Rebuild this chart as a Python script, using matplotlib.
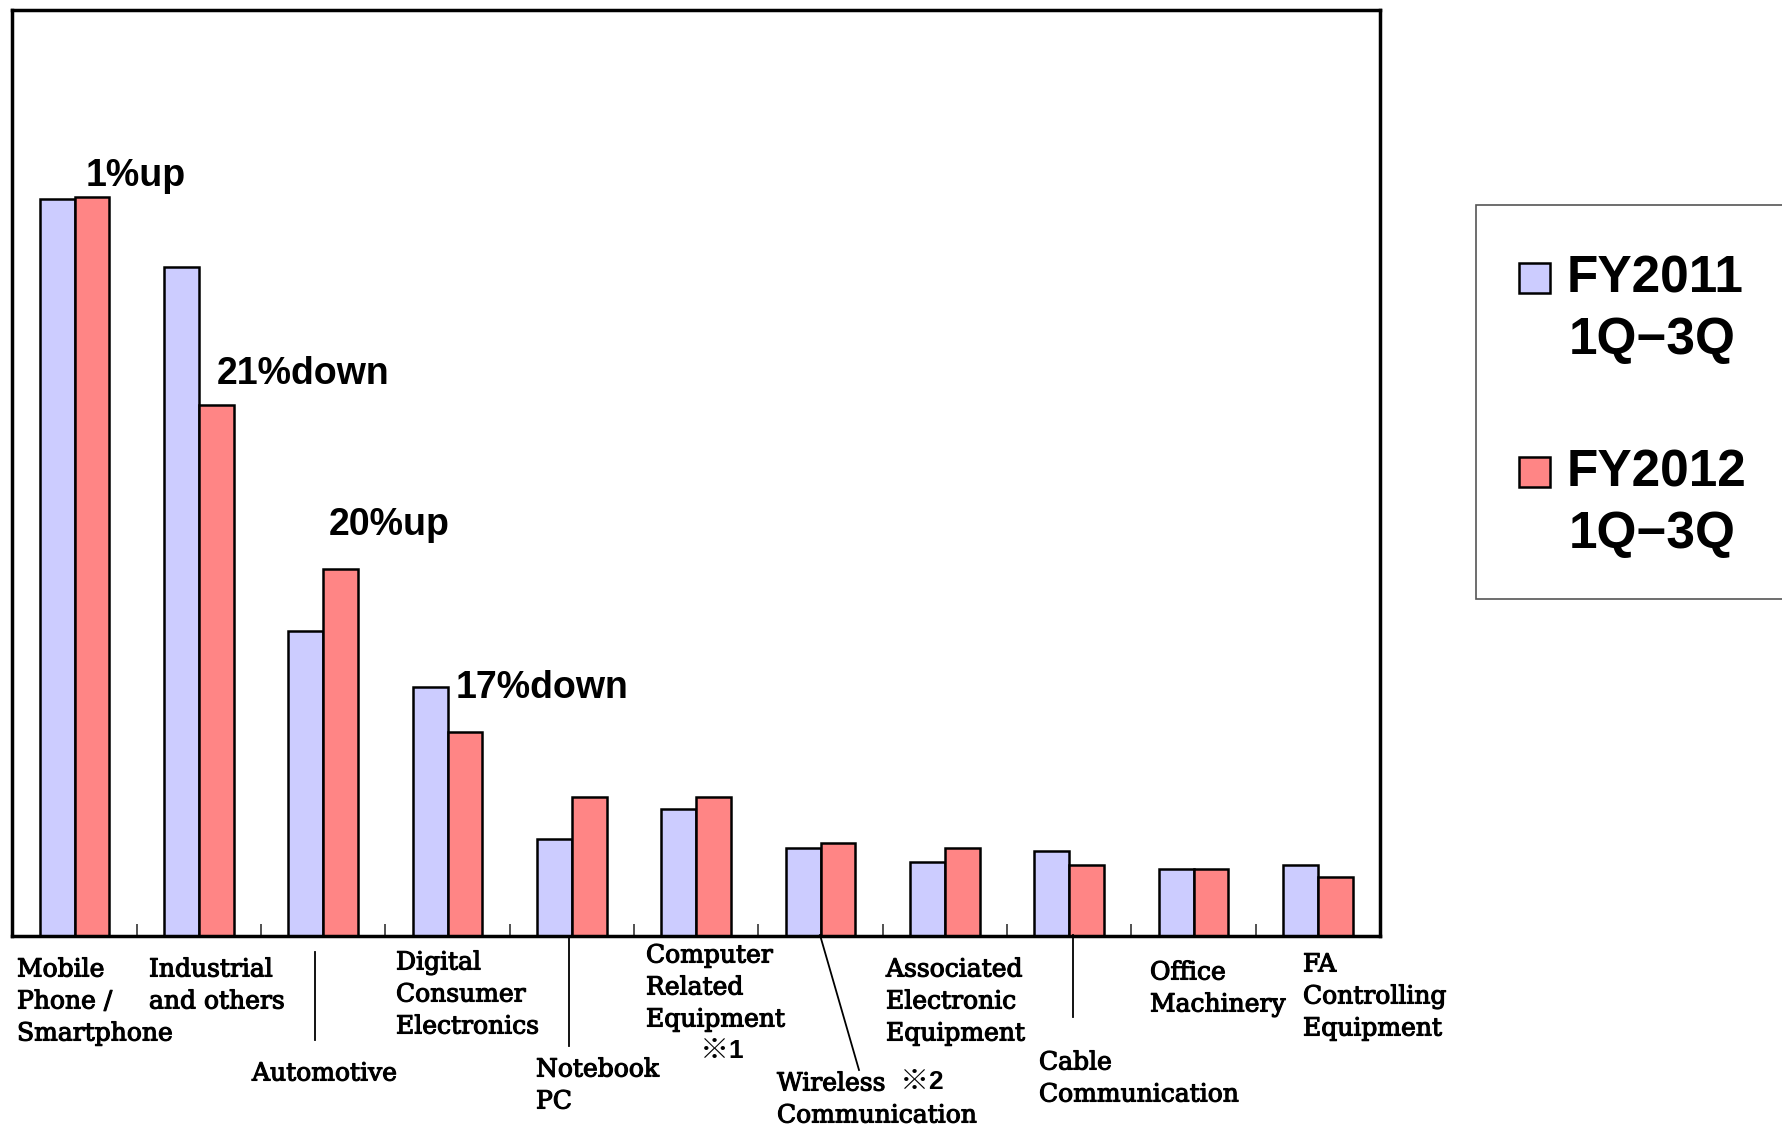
import matplotlib
matplotlib.use("Agg")
import matplotlib.pyplot as plt
from matplotlib.patches import Rectangle
from matplotlib.lines import Line2D
import matplotlib.patheffects as pe
import numpy as np

# Sales by application (relative scale)
categories = [
    "Mobile\nPhone /\nSmartphone",
    "Industrial\nand others",
    "Automotive",
    "Digital\nConsumer\nElectronics",
    "Notebook\nPC",
    "Computer\nRelated\nEquipment",
    "Wireless\nCommunication",
    "Associated\nElectronic\nEquipment",
    "Cable\nCommunication",
    "Office\nMachinery",
    "FA\nControlling\nEquipment",
]
fy2011 = [648, 588, 268, 219, 85, 112, 77, 65, 75, 59, 62]
fy2012 = [650, 467, 323, 179, 122, 122, 82, 77, 62, 59, 52]
series_labels = ["FY2011\n1Q\u22123Q", "FY2012\n1Q\u22123Q"]
change_labels = {0: "1%up", 1: "21%down", 2: "20%up", 3: "17%down"}

W, H = 1783, 1127
fig = plt.figure(figsize=(W / 100, H / 100), dpi=100)


def fx(px):
    return px / W


def fy(py):
    return 1 - py / H


ax = fig.add_axes([fx(12.5), fy(936), fx(1380) - fx(12.5), fy(10) - fy(936)])

blue = "#CCCCFF"
red = "#FF8585"
x = np.arange(len(categories))
bw = 0.28
ax.bar(x - bw / 2, fy2011, bw, color=blue, edgecolor="black", linewidth=1.8, zorder=2)
ax.bar(x + bw / 2, fy2012, bw, color=red, edgecolor="black", linewidth=1.8, zorder=2)

ax.set_xlim(-0.5, len(categories) - 0.5)
ax.set_ylim(0, 814)
ax.set_yticks([])
ax.set_xticks(np.arange(0.5, len(categories) - 0.5, 1.0))
ax.set_xticklabels([])
ax.tick_params(axis="x", direction="in", length=9, width=1.2, color="#333333")
for s in ax.spines.values():
    s.set_linewidth(2.5)
    s.set_color("black")

# Year-over-year change annotations
offsets = {0: (0.09, 18), 1: (1.145, 27), 2: (2.04, 38), 3: (3.065, 39)}
for i, txt in change_labels.items():
    dx, dy = offsets[i]
    ax.text(dx, fy2012[i] + dy, txt, fontsize=27, family="Liberation Sans",
            weight="bold", ha="left", va="center", zorder=3)

# Category labels below the axis (pixel positions: left x, first-line center y)
label_pos = [
    (17, 970), (149, 970), (252, 1074), (396, 963), (536, 1070),
    (646, 956), (777, 1084), (886, 970), (1039, 1063), (1150, 973), (1303, 965),
]
line_h = 32
heavy = [pe.withStroke(linewidth=0.8, foreground="black")]
for name, (lx, ly) in zip(categories, label_pos):
    for k, line in enumerate(name.split("\n")):
        fig.text(fx(lx), fy(ly + k * line_h), line, fontsize=18,
                 family="DejaVu Serif", ha="left", va="center", path_effects=heavy)

# Reference marks
for mark, (mx, my) in [("※", (700, 1051)), ("※", (900, 1082))]:
    fig.text(fx(mx), fy(my), mark, fontsize=21, family=["Noto Sans CJK JP", "DejaVu Sans"],
             ha="left", va="center")
for num, (mx, my) in [("1", (728, 1051)), ("2", (928, 1082))]:
    fig.text(fx(mx), fy(my), num, fontsize=19, family="Liberation Sans",
             ha="left", va="center", weight="bold")

# Leader lines
leaders = [((315, 952), (315, 1040)), ((569, 938), (569, 1046)),
           ((820, 935), (859, 1070)), ((1073, 935), (1073, 1017))]
for (x0, y0), (x1, y1) in leaders:
    fig.add_artist(Line2D([fx(x0), fx(x1)], [fy(y0), fy(y1)], color="black", linewidth=1.3))

# Legend
fig.add_artist(Rectangle((fx(1476), fy(599)), fx(1790) - fx(1476), fy(205) - fy(599),
                         transform=fig.transFigure, facecolor="white", edgecolor="#555555",
                         linewidth=1.2))
for col, lab, (py_patch, py_text) in zip([blue, red], series_labels,
                                         [(263, 279), (457, 473)]):
    fig.add_artist(Rectangle((fx(1519), fy(py_patch + 30)), fx(31), fy(0) - fy(30),
                             transform=fig.transFigure, facecolor=col,
                             edgecolor="black", linewidth=1.8))
    for k, line in enumerate(lab.split("\n")):
        fig.text(fx(1567 if k == 0 else 1569), fy(py_text + k * 62), line, fontsize=37,
                 family="Liberation Sans", weight="bold", ha="left", va="center")

fig.savefig("out.png", dpi=100, facecolor="white")
